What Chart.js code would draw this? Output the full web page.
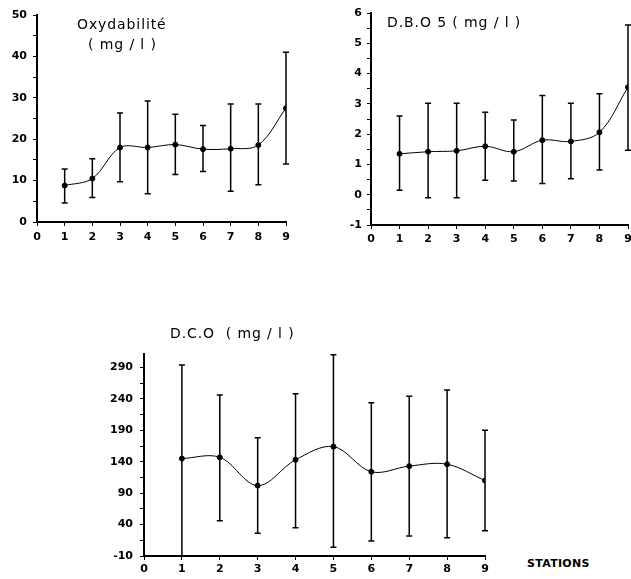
<!DOCTYPE html>
<html>
<head>
<meta charset="utf-8">
<script src="https://cdn.jsdelivr.net/npm/chart.js@4"></script>
<style>
  body { margin: 0; background: #fff; width: 631px; height: 579px; position: relative; overflow: hidden; }
  canvas { position: absolute; }
  .t { position: absolute; font-family: "DejaVu Sans", sans-serif; font-size: 14px; color: #000; white-space: pre; letter-spacing: 0.9px; line-height: 17px; }
  .b { font-weight: bold; font-size: 11px; letter-spacing: 0.3px; }
</style>
</head>
<body>
<canvas id="oxy" width="300" height="252" style="left:0;top:0"></canvas>
<canvas id="dbo" width="306" height="252" style="left:330px;top:0"></canvas>
<canvas id="dco" width="420" height="239" style="left:90px;top:340px"></canvas>

<div class="t" style="left:77px;top:16px">Oxydabilité</div>
<div class="t" style="left:88px;top:36px">( mg / l )</div>
<div class="t" style="left:387px;top:14px">D.B.O 5 ( mg / l )</div>
<div class="t" style="left:170px;top:325px">D.C.O  ( mg / l )</div>
<div class="t b" style="left:527px;top:555px">STATIONS</div>

<script>
// stations 1..9
const stations = [1, 2, 3, 4, 5, 6, 7, 8, 9];
const xTicks = [0, 1, 2, 3, 4, 5, 6, 7, 8, 9];

// Oxydabilité (mg/l)
const oxyMean = [8.8, 10.5, 18.0, 18.0, 18.7, 17.6, 17.7, 18.6, 27.5];
const oxyHigh = [12.8, 15.3, 26.3, 29.2, 26.0, 23.3, 28.5, 28.5, 41.0];
const oxyLow  = [4.6, 5.9, 9.7, 6.8, 11.5, 12.2, 7.4, 9.0, 14.0];
const oxyTicks = [0, 10, 20, 30, 40, 50];

// D.B.O 5 (mg/l)
const dboMean = [1.35, 1.42, 1.45, 1.60, 1.42, 1.80, 1.76, 2.06, 3.55];
const dboHigh = [2.60, 3.02, 3.02, 2.72, 2.47, 3.28, 3.02, 3.33, 5.60];
const dboLow  = [0.15, -0.10, -0.10, 0.48, 0.45, 0.37, 0.53, 0.82, 1.47];
const dboTicks = [-1, 0, 1, 2, 3, 4, 5, 6];

// D.C.O (mg/l)
const dcoMean = [145, 147, 102, 143, 164, 124, 133, 136, 110];
const dcoHigh = [294, 246, 178, 248, 310, 234, 244, 254, 190];
const dcoLow  = [-10, 46, 26, 35, 4, 14, 22, 19, 30];
const dcoTicks = [-10, 40, 90, 140, 190, 240, 290];

const tickFont = { family: 'DejaVu Sans', size: 11, weight: 'bold' };

const errorBars = {
  id: 'errorBars',
  afterDatasetsDraw(chart, args, opts) {
    const { ctx, scales: { x, y } } = chart;
    ctx.save();
    ctx.strokeStyle = '#000';
    ctx.lineWidth = 1.5;
    stations.forEach((s, i) => {
      const px = x.getPixelForValue(s);
      const top = y.getPixelForValue(opts.high[i]);
      const bot = y.getPixelForValue(opts.low[i]);
      ctx.beginPath();
      ctx.moveTo(px, top); ctx.lineTo(px, bot);
      ctx.moveTo(px - 3, top); ctx.lineTo(px + 3, top);
      ctx.moveTo(px - 3, bot); ctx.lineTo(px + 3, bot);
      ctx.stroke();
    });
    ctx.restore();
  }
};

function makeChart(id, mean, high, low, yTicks, cfg) {
  const step = yTicks[1] - yTicks[0];
  const allY = [];
  yTicks.forEach((v, i) => {
    allY.push(v);
    if (i < yTicks.length - 1) allY.push(v + step / 2);
  });
  return new Chart(document.getElementById(id), {
    type: 'line',
    data: {
      datasets: [{
        data: stations.map((s, i) => ({ x: s, y: mean[i] })),
        borderColor: '#000',
        backgroundColor: '#000',
        borderWidth: 1,
        pointRadius: 2.5,
        tension: 0.35,
        fill: false
      }]
    },
    options: {
      responsive: false,
      devicePixelRatio: 1,
      animation: false,
      layout: { padding: cfg.pad },
      plugins: {
        legend: { display: false },
        tooltip: { enabled: false },
        errorBars: { high, low }
      },
      scales: {
        x: {
          type: 'linear',
          min: 0, max: 9,
          afterBuildTicks: sc => { sc.ticks = xTicks.map(v => ({ value: v })); },
          afterFit: sc => { sc.height = cfg.xh; },
          ticks: { font: tickFont, color: '#000', padding: cfg.xpad, maxRotation: 0, autoSkip: false },
          grid: { drawOnChartArea: false, drawTicks: true, tickLength: 4, color: '#000' },
          border: { display: true, color: '#000', width: 2 }
        },
        y: {
          min: cfg.ymin, max: cfg.ymax,
          afterBuildTicks: sc => { sc.ticks = allY.map(v => ({ value: v })); },
          afterFit: sc => { sc.width = cfg.yw; },
          ticks: {
            font: tickFont, color: '#000', padding: cfg.ypad, autoSkip: false,
            callback: v => (yTicks.includes(v) ? String(v) : '')
          },
          grid: { drawOnChartArea: false, drawTicks: true, tickLength: 4, color: '#000' },
          border: { display: true, color: '#000', width: 2 }
        }
      }
    },
    plugins: [errorBars]
  });
}

makeChart('oxy', oxyMean, oxyHigh, oxyLow, oxyTicks,
  { pad: { left: 0, top: 15, right: 14, bottom: 0 }, yw: 37, xh: 30, ymin: 0, ymax: 50, xpad: 5, ypad: 6 });
makeChart('dbo', dboMean, dboHigh, dboLow, dboTicks,
  { pad: { left: 0, top: 13, right: 8, bottom: 0 }, yw: 41, xh: 27, ymin: -1, ymax: 6, xpad: 4, ypad: 5 });
makeChart('dco', dcoMean, dcoHigh, dcoLow, dcoTicks,
  { pad: { left: 0, top: 12, right: 25, bottom: 0 }, yw: 54, xh: 23, ymin: -10, ymax: 312, xpad: 3, ypad: 7 });
</script>
</body>
</html>
